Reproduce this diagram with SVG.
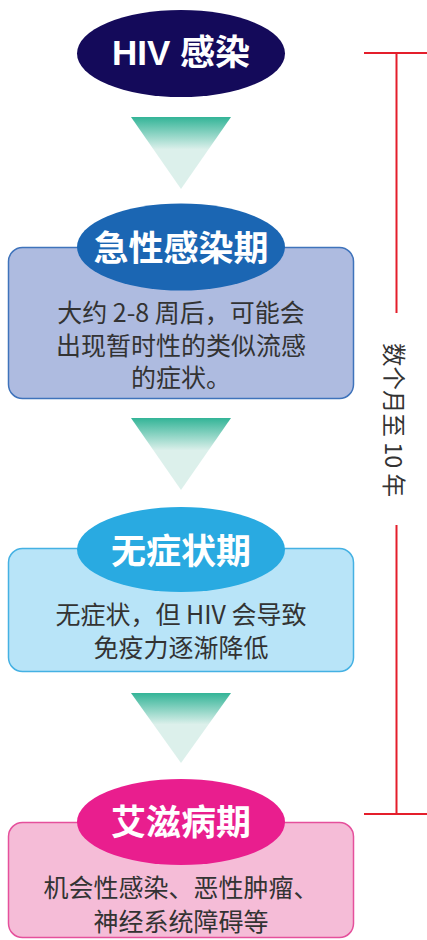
<svg xmlns="http://www.w3.org/2000/svg" width="427" height="940" viewBox="0 0 427 940">
<defs>
<linearGradient id="tg" x1="0" y1="0" x2="0" y2="1">
<stop offset="0" stop-color="#33b497"/>
<stop offset="0.45" stop-color="#dcf0eb"/>
<stop offset="1" stop-color="#dcf0eb"/>
</linearGradient>
<style>
.title{font-family:"Liberation Sans","Noto Sans CJK SC",sans-serif;font-weight:bold;font-size:35px;fill:#fff;text-anchor:middle}
.body{font-family:"Noto Sans CJK SC",sans-serif;font-size:25px;fill:#333;text-anchor:middle}
.red{stroke:#e41e2b;stroke-width:2;fill:none}
.box{stroke-width:1.5}
</style>
</defs>
<rect width="427" height="940" fill="#fff"/>
<g id="connectors">
<polygon points="131,117 231,117 181,189" fill="url(#tg)"/>
<polygon points="131,418 231,418 181,490" fill="url(#tg)"/>
<polygon points="131,693 231,693 181,763" fill="url(#tg)"/>
</g>
<g id="hiv">
<ellipse cx="181" cy="53.5" rx="104" ry="43.5" fill="#140a5a"/>
<text class="title" x="181" y="65">HIV 感染</text>
</g>
<g id="acute">
<rect class="box" x="8.5" y="247.5" width="345" height="151" rx="14" fill="#aebbe0" stroke="#3f73bb"/>
<ellipse cx="181" cy="247" rx="104" ry="43.5" fill="#1b66b3"/>
<text class="title" x="181" y="261">急性感染期</text>
<text class="body" x="181" y="322">大约 2-8 周后，可能会</text>
<text class="body" x="181" y="355">出现暂时性的类似流感</text>
<text class="body" x="181" y="387">的症状。</text>
</g>
<g id="asymptomatic">
<rect class="box" x="8.5" y="548.5" width="345" height="123" rx="14" fill="#b8e4f8" stroke="#45b1e3"/>
<ellipse cx="181" cy="549.5" rx="104" ry="42.5" fill="#29aae1"/>
<text class="title" x="181" y="564">无症状期</text>
<text class="body" x="181" y="624">无症状，但 HIV 会导致</text>
<text class="body" x="181" y="657">免疫力逐渐降低</text>
</g>
<g id="aids">
<rect class="box" x="8.5" y="822.5" width="345" height="115" rx="14" fill="#f5bcd7" stroke="#e5509c"/>
<ellipse cx="181" cy="822" rx="104" ry="43" fill="#e91e8e"/>
<text class="title" x="181" y="835">艾滋病期</text>
<text class="body" x="181" y="897">机会性感染、恶性肿瘤、</text>
<text class="body" x="181" y="931">神经系统障碍等</text>
</g>
<g id="timespan">
<line class="red" x1="364" y1="53" x2="427" y2="53"/>
<line class="red" x1="396.5" y1="53" x2="396.5" y2="313"/>
<line class="red" x1="396.5" y1="525" x2="396.5" y2="814"/>
<line class="red" x1="364" y1="814" x2="427" y2="814"/>
<text transform="translate(395 420) rotate(90)" x="0" y="0" dominant-baseline="central" text-anchor="middle" font-family="Noto Sans CJK SC, sans-serif" font-size="23.5" fill="#333">数个月至 10 年</text>
</g>
</svg>
